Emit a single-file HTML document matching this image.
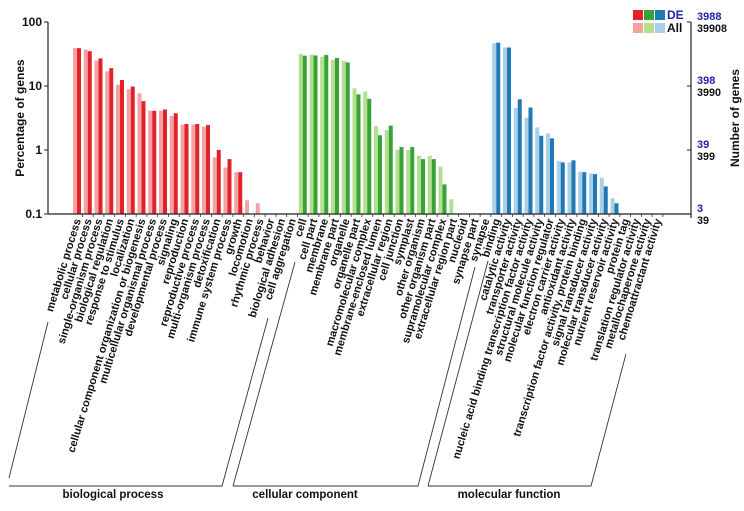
<!DOCTYPE html>
<html><head><meta charset="utf-8"><style>
body{margin:0;background:#fff;}
svg{display:block;font-family:"Liberation Sans",Arial,sans-serif;}
</style></head><body>
<svg id="chart" width="744" height="511" viewBox="0 0 744 511">
<g id="bars"></g>
<g id="axes"></g>
</svg>
<script>
const categories=["metabolic process","cellular process","single-organism process","biological regulation","response to stimulus","localization","cellular component organization or biogenesis","multicellular organismal process","developmental process","signaling","reproduction","reproductive process","multi-organism process","detoxification","immune system process","growth","locomotion","rhythmic process","behavior","biological adhesion","cell aggregation",
"cell","cell part","membrane","membrane part","organelle","organelle part","macromolecular complex","membrane-enclosed lumen","extracellular region","cell junction","symplast","other organism","other organism part","supramolecular complex","extracellular region part","nucleoid","synapse part","synapse",
"binding","catalytic activity","transporter activity","nucleic acid binding transcription factor activity","structural molecule activity","molecular function regulator","electron carrier activity","antioxidant activity","transcription factor activity, protein binding","signal transducer activity","molecular transducer activity","nutrient reservoir activity","protein tag","translation regulator activity","metallochaperone activity","chemoattractant activity"];
const groups=["bp","bp","bp","bp","bp","bp","bp","bp","bp","bp","bp","bp","bp","bp","bp","bp","bp","bp","bp","bp","bp",
"cc","cc","cc","cc","cc","cc","cc","cc","cc","cc","cc","cc","cc","cc","cc","cc","cc","cc",
"mf","mf","mf","mf","mf","mf","mf","mf","mf","mf","mf","mf","mf","mf","mf","mf"];
const allValues=[39,37,25,17,10.5,8.9,7.7,4.1,4.1,3.4,2.5,2.5,2.3,0.77,0.53,0.45,0.164,0.147,0,0,0,
31.6,31,28.6,25.5,24.8,9.2,8.2,2.35,2.05,1.0,1.0,0.81,0.81,0.55,0.17,0,0,0,
46.5,40,4.5,3.2,2.26,1.82,0.67,0.64,0.46,0.43,0.37,0.176,0,0,0,0];
const deValues=[39,35,27,19,12.4,9.8,5.8,4.1,4.3,3.75,2.55,2.55,2.45,1.0,0.72,0.45,0,0,0,0,0,
29.8,30,30.6,27.4,23.4,7.4,6.3,1.7,2.4,1.11,1.11,0.72,0.72,0.29,0,0,0,0,
47.5,40,6.2,4.6,1.67,1.52,0.64,0.69,0.45,0.42,0.27,0.147,0,0,0,0];
const leftTicks=[100,10,1,0.1];
const leftTickLabels=["100","10","1","0.1"];
const deTickLabels=["3988","398","39","3"];
const allTickLabels=["39908","3990","399","39"];

const NS="http://www.w3.org/2000/svg";
const colors={bp:["#f4a3a3","#e0232b"],cc:["#b3df8e","#37a337"],mf:["#a8d0e6","#2278b7"]};
const X0=77,STEP=10.75,BW=4,YB=214;
function y(v){return 150-64*Math.log10(v);}
function x(i){return X0+i*STEP;}
function mk(tag,attrs,parent,txt){const e=document.createElementNS(NS,tag);for(const k in attrs)e.setAttribute(k,attrs[k]);if(txt!==undefined)e.textContent=txt;parent.appendChild(e);return e;}
const bars=document.getElementById('bars'),axes=document.getElementById('axes');
categories.forEach((c,i)=>{
  const col=colors[groups[i]];
  if(allValues[i]>0){const r=mk('rect',{x:x(i)-BW,y:y(allValues[i]),width:BW,height:YB-y(allValues[i]),fill:col[0]},bars);
    
    }
  if(deValues[i]>0){const r=mk('rect',{x:x(i),y:y(deValues[i]),width:BW,height:YB-y(deValues[i]),fill:col[1]},bars);
    
    }
  const t=mk('text',{x:x(i)+4,y:220,'text-anchor':'end','font-size':'11','font-weight':'bold',fill:'#111',transform:`rotate(-73 ${x(i)+4} 220)`},axes,c);
  
  
  mk('line',{x1:x(i)+5.4,x2:x(i)+5.4,y1:YB,y2:YB+3,stroke:'#333','stroke-width':0.8},axes);
});
mk('line',{x1:48,x2:48,y1:22,y2:YB,stroke:'#222','stroke-width':1.2},axes);
mk('line',{x1:48,x2:691,y1:YB,y2:YB,stroke:'#222','stroke-width':1.2},axes);
mk('line',{x1:691,x2:691,y1:22,y2:218,stroke:'#222','stroke-width':1.2},axes);
leftTicks.forEach((v,k)=>{
  mk('line',{x1:44,x2:48,y1:y(v),y2:y(v),stroke:'#222'},axes);
  const t=mk('text',{x:42,y:y(v)+4,'text-anchor':'end','font-size':'12','font-weight':'bold',fill:'#111'},axes,leftTickLabels[k]);
  
  
  mk('line',{x1:687,x2:691,y1:y(v),y2:y(v),stroke:'#222'},axes);
  const a=mk('text',{x:697,y:y(v)-2,'font-size':'11','font-weight':'bold',fill:'#2222aa'},axes,deTickLabels[k]);
  
  
  const b=mk('text',{x:697,y:y(v)+10,'font-size':'11','font-weight':'bold',fill:'#111',textLength:(allTickLabels[k].length*6),lengthAdjust:'spacingAndGlyphs'},axes,allTickLabels[k]);
  
  
});
</script>
<script>
const s=document.getElementById('chart');
const extra=`
<text x="24" y="118" transform="rotate(-90 24 118)" text-anchor="middle" font-size="12" font-weight="bold" fill="#111">Percentage of genes</text>
<text x="739" y="118" transform="rotate(-90 739 118)" text-anchor="middle" font-size="12" font-weight="bold" fill="#111">Number of genes</text>
<g>
<rect x="633" y="10" width="10" height="10" fill="#e0232b"/><rect x="644" y="10" width="10" height="10" fill="#37a337"/><rect x="655" y="10" width="10" height="10" fill="#2278b7"/>
<rect x="633" y="23" width="10" height="10" fill="#f4a3a3"/><rect x="644" y="23" width="10" height="10" fill="#b3df8e"/><rect x="655" y="23" width="10" height="10" fill="#a8d0e6"/>
<text x="667" y="19" font-size="12" font-weight="bold" fill="#2222aa">DE</text>
<text x="667" y="32" font-size="12" font-weight="bold" fill="#111">All</text>
</g>
<g stroke="#333" stroke-width="0.9" fill="none">
<polyline points="48,322 9,478"/><polyline points="9,486 222,486 268,318"/>
<polyline points="233,486 418,486 475,267"/><polyline points="233,486 295,262"/>
<polyline points="428,486 591,486 626,354"/><polyline points="428,486 488,261"/>
</g>
<text x="113" y="498" text-anchor="middle" font-size="11.5" font-weight="bold" fill="#111">biological process</text>
<text x="305" y="498" text-anchor="middle" font-size="11.5" font-weight="bold" fill="#111">cellular component</text>
<text x="509" y="498" text-anchor="middle" font-size="11.5" font-weight="bold" fill="#111">molecular function</text>`;
s.insertAdjacentHTML('beforeend',extra);
</script>
</body></html>
